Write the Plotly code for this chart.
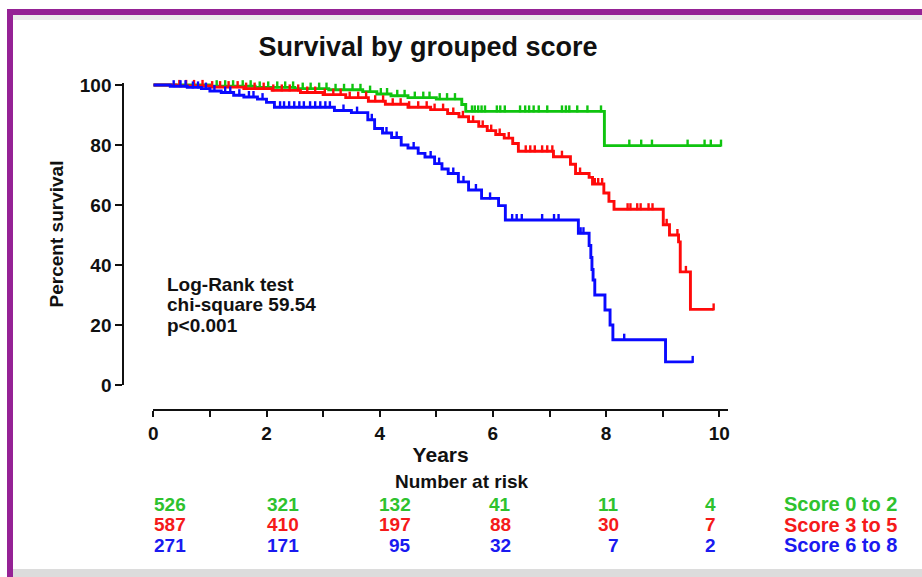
import numpy as np
import plotly.graph_objects as go

# ---------------- data ----------------
group_names = ["Score 0 to 2", "Score 3 to 5", "Score 6 to 8"]

# Kaplan-Meier step points (time in years, percent surviving)
green_t = [0, 1.0, 1.8, 2.5, 3.1, 3.7, 3.95, 4.2, 4.5, 5.0, 5.45, 5.52, 7.97]
green_s = [100, 99.6, 99.2, 98.8, 98.4, 97.8, 97.0, 96.4, 95.8, 95.3, 93.5, 91.2, 79.8]
green_end = 10.03
green_cens = [0.08, 0.22, 0.37, 0.5, 0.66, 0.81, 0.93, 1.12, 1.27, 1.41, 1.58, 1.72, 1.88,
              2.03, 2.19, 2.33, 2.47, 2.64, 2.78, 2.93, 3.06, 3.22, 3.37, 3.52, 3.66, 3.83,
              4.02, 4.13, 4.31, 4.44, 4.62, 4.77, 4.88, 5.06, 5.19, 5.33, 5.63, 5.68, 5.74,
              5.8, 5.86, 6.07, 6.13, 6.21, 6.48, 6.57, 6.64, 6.72, 6.81, 6.96, 7.22, 7.29,
              7.35, 7.49, 7.67, 7.91, 8.41, 8.62, 8.81, 9.44, 9.74, 9.85, 10.03]

red_t = [0, 0.4, 1.0, 1.6, 2.1, 2.6, 3.0, 3.4, 3.8, 4.1, 4.5, 4.9, 5.2, 5.4, 5.57, 5.75,
         5.9, 6.05, 6.2, 6.35, 6.45, 7.07, 7.37, 7.46, 7.7, 7.76, 7.96, 8.05, 8.14, 9.01,
         9.12, 9.28, 9.31, 9.49]
red_s = [100, 99.7, 99.3, 98.8, 98.2, 97.5, 96.8, 95.8, 94.6, 93.6, 92.6, 91.8, 90.5, 89.4,
         87.8, 86.2, 84.8, 83.5, 82.3, 80.5, 77.9, 76.1, 73.6, 70.5, 69.2, 67.0, 64.0, 61.2,
         58.6, 53.4, 50.0, 47.7, 37.7, 25.2]
red_end = 9.9
red_cens = [0.06, 0.19, 0.31, 0.46, 0.58, 0.72, 0.87, 1.04, 1.18, 1.33, 1.49, 1.64, 1.79,
            1.95, 2.12, 2.27, 2.41, 2.56, 2.72, 2.86, 3.03, 3.18, 3.31, 3.47, 3.62, 3.76,
            3.92, 4.06, 4.23, 4.37, 4.52, 4.68, 4.83, 4.97, 5.12, 5.3, 5.47, 5.65, 5.82,
            5.97, 6.12, 6.28, 6.58, 6.66, 6.74, 6.87, 6.96, 7.05, 7.22, 7.54, 7.8, 7.86,
            7.93, 8.38, 8.43, 8.55, 8.61, 8.75, 8.82, 9.07, 9.26, 9.41, 9.9]

blue_t = [0, 0.3, 0.6, 0.85, 1.0, 1.2, 1.42, 1.6, 1.84, 2.0, 2.14, 3.2, 3.5, 3.79, 3.91,
          4.05, 4.21, 4.38, 4.5, 4.68, 4.8, 4.97, 5.1, 5.21, 5.39, 5.57, 5.8, 6.1, 6.22,
          7.51, 7.70, 7.73, 7.75, 7.77, 7.80, 7.98, 8.07, 8.12, 9.05]
blue_s = [100, 99.6, 99.2, 98.8, 98.0, 97.5, 96.6, 96.0, 95.3, 94.2, 92.6, 91.5, 90.8, 88.4,
          85.5, 84.0, 82.5, 80.0, 79.0, 77.2, 76.0, 73.8, 72.0, 70.5, 67.7, 65.0, 62.2, 59.8,
          55.0, 50.6, 46.5, 42.5, 38.5, 35.0, 30.0, 25.0, 20.0, 15.1, 7.7]
blue_end = 9.53
blue_cens = [0.05, 0.14, 0.24, 0.36, 0.48, 0.57, 0.7, 0.79, 0.93, 1.08, 1.27, 1.36, 1.52,
             1.69, 1.77, 1.93, 2.24, 2.31, 2.4, 2.49, 2.58, 2.66, 2.77, 2.86, 2.95, 3.04,
             3.12, 3.36, 3.6, 3.86, 4.12, 4.3, 4.6, 4.9, 5.05, 5.3, 5.48, 5.7, 5.95, 6.34,
             6.42, 6.51, 6.87, 7.08, 7.16, 7.55, 7.6, 8.32, 9.53]

# Number at risk by year
risk_years = [0, 2, 4, 6, 8, 10]
risk_green = [526, 321, 132, 41, 11, 4]
risk_red = [587, 410, 197, 88, 30, 7]
risk_blue = [271, 171, 95, 32, 7, 2]

y_ticks = [0, 20, 40, 60, 80, 100]
x_ticks = list(range(0, 11))
x_ticklabels = [str(v) if v % 2 == 0 else "" for v in x_ticks]

# ---------------- styling ----------------
W, H = 922, 577
FONT = "Liberation Sans, Arial, Helvetica, sans-serif"
C_GREEN, C_RED, C_BLUE = "#0FC40F", "#FF0A0A", "#0A0AFF"
T_GREEN, T_RED, T_BLUE = "#2EC22E", "#F51A1A", "#1A1AF0"
INK = "#111111"
PURPLE = "#952295"
Y_PX_PER_UNIT = 3.0          # vertical scale of the survival axis
TICK_PX = 5                  # height of a censoring tick


def fx(px):
    return px / W


def fy(py):
    return 1 - py / H


def surv_at(times, surv, t):
    idx = np.searchsorted(np.asarray(times), t, side="right") - 1
    return np.asarray(surv)[idx]


fig = go.Figure()

curves = [
    (green_t, green_s, green_end, green_cens, C_GREEN, group_names[0]),
    (red_t, red_s, red_end, red_cens, C_RED, group_names[1]),
    (blue_t, blue_s, blue_end, blue_cens, C_BLUE, group_names[2]),
]

# censoring ticks stand on top of the curve
tick_lift = TICK_PX / 2 / Y_PX_PER_UNIT

for t, s, t_end, cens, col, name in curves:
    xs = list(t) + [t_end]
    ys = list(s) + [s[-1]]
    fig.add_trace(go.Scatter(
        x=xs, y=ys, mode="lines", name=name,
        line=dict(color=col, width=2.9, shape="hv"),
        hoverinfo="skip", cliponaxis=False,
    ))
    fig.add_trace(go.Scatter(
        x=cens, y=surv_at(t, s, np.asarray(cens)) + tick_lift, mode="markers", name=name,
        marker=dict(symbol="line-ns-open", size=TICK_PX, color=col,
                    line=dict(color=col, width=2.4)),
        hoverinfo="skip", cliponaxis=False, showlegend=False,
    ))

fig.update_layout(
    width=W, height=H,
    margin=dict(l=0, r=0, t=0, b=0),
    paper_bgcolor="white", plot_bgcolor="white",
    showlegend=False,
    font=dict(family=FONT, color=INK),
    title=dict(
        text="Survival by grouped score",
        x=fx(428), xanchor="center", y=fy(47), yanchor="middle",
        font=dict(family=FONT, size=27, weight="bold", color=INK),
    ),
    xaxis=dict(
        domain=[fx(153.3), fx(728)], range=[0, (728 - 153.3) / 56.6],
        anchor="free", position=fy(410),
        showline=True, linecolor=INK, linewidth=2,
        ticks="outside", ticklen=6, tickwidth=2, tickcolor=INK,
        tickvals=x_ticks, ticktext=x_ticklabels,
        tickfont=dict(family=FONT, size=19, weight="bold", color=INK),
        showgrid=False, zeroline=False, automargin=False,
        title=dict(text="Years", standoff=4,
                   font=dict(family=FONT, size=21, weight="bold", color=INK)),
    ),
    yaxis=dict(
        domain=[fy(385), fy(83)], range=[0, (385 - 83) / Y_PX_PER_UNIT],
        anchor="free", position=fx(123.3),
        showline=True, linecolor=INK, linewidth=2,
        ticks="outside", ticklen=7, tickwidth=2, tickcolor=INK,
        tickvals=y_ticks,
        tickfont=dict(family=FONT, size=19, weight="bold", color=INK),
        showgrid=False, zeroline=False, automargin=False,
        title=dict(text="Percent survival", standoff=10,
                   font=dict(family=FONT, size=19, weight="bold", color=INK)),
    ),
)

# Frame: purple top and left edges with a soft grey shadow
fig.add_shape(type="rect", xref="paper", yref="paper", layer="below",
              x0=fx(13), x1=1, y0=fy(20), y1=fy(15), line=dict(width=0), fillcolor="#ececec")
fig.add_shape(type="rect", xref="paper", yref="paper", layer="below",
              x0=fx(13), x1=1, y0=fy(577), y1=fy(569), line=dict(width=0), fillcolor="#dcdcdc")
fig.add_shape(type="rect", xref="paper", yref="paper",
              x0=fx(7), x1=1, y0=fy(15), y1=fy(9), line=dict(width=0), fillcolor=PURPLE)
fig.add_shape(type="rect", xref="paper", yref="paper",
              x0=fx(7), x1=fx(13), y0=0, y1=fy(9), line=dict(width=0), fillcolor=PURPLE)

# Log-rank test summary
stats_lines = ["Log-Rank test", "chi-square 59.54", "p<0.001"]
for i, line in enumerate(stats_lines):
    fig.add_annotation(xref="paper", yref="paper", x=fx(165), y=fy(284 + 20.5 * i),
                       xanchor="left", yanchor="middle", showarrow=False, text=line,
                       font=dict(family=FONT, size=19, weight="bold", color=INK))

# Number-at-risk table
fig.add_annotation(xref="paper", yref="paper", x=fx(461), y=fy(482),
                   xanchor="center", yanchor="middle", showarrow=False,
                   text="Number at risk",
                   font=dict(family=FONT, size=19, weight="bold", color=INK))

col_right = [188, 301, 413, 513, 621, 718]
row_y = [504, 524.5, 545]
rows = [(risk_green, T_GREEN, group_names[0]),
        (risk_red, T_RED, group_names[1]),
        (risk_blue, T_BLUE, group_names[2])]
for (counts, col, name), yy in zip(rows, row_y):
    for n, xr in zip(counts, col_right):
        fig.add_annotation(xref="paper", yref="paper", x=fx(xr), y=fy(yy),
                           xanchor="right", yanchor="middle", showarrow=False,
                           text=str(n),
                           font=dict(family=FONT, size=19, weight="bold", color=col))
    fig.add_annotation(xref="paper", yref="paper", x=fx(782), y=fy(yy),
                       xanchor="left", yanchor="middle", showarrow=False, text=name,
                       font=dict(family=FONT, size=20, weight="bold", color=col))

fig.write_html("out.html")
